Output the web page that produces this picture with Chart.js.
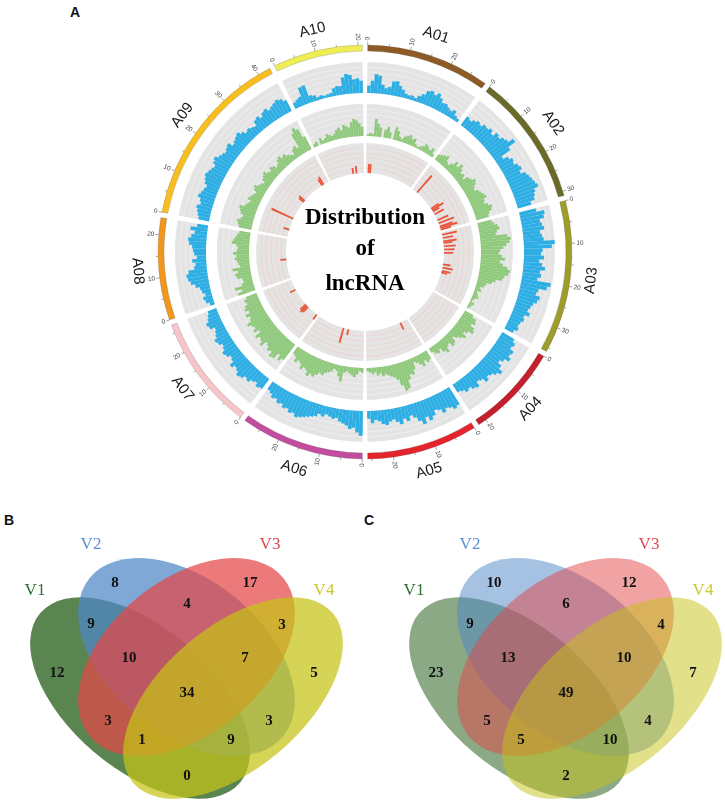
<!DOCTYPE html>
<html><head><meta charset="utf-8">
<script src="https://cdn.jsdelivr.net/npm/chart.js@4.4.1/dist/chart.umd.min.js"></script>
<style>
html,body{margin:0;padding:0;background:#fff;}
body{width:725px;height:801px;position:relative;overflow:hidden;}
#circos{position:absolute;left:113px;top:0px;}
#venn{position:absolute;left:0px;top:500px;}
.panel{position:absolute;font:bold 14px "Liberation Sans",Arial,sans-serif;color:#111;}
</style></head><body>
<div class="panel" style="left:70px;top:4px">A</div>
<div class="panel" style="left:4px;top:512px">B</div>
<div class="panel" style="left:364px;top:512px">C</div>
<canvas id="circos" width="504" height="504"></canvas>
<canvas id="venn" width="725" height="301"></canvas>
<script>
// ---------------- DATA ----------------
const chromosomes = ['A01','A02','A03','A04','A05','A06','A07','A08','A09','A10'];
const chromLengthMb = [29,31,36,22,26,29,27,24,43,21];

// lncRNA density per 1-Mb bin (relative, 0-100), outer (blue) track
const lncBlue = [
 [24,40,62,58,30,20,25,45,48,35,25,15,12,15,10,20,30,45,50,42,52,40,30,32,25,20,28,15,10],
 [35,30,38,45,40,50,48,55,45,60,55,65,70,88,60,25,40,50,45,55,60,50,65,70,75,80,85,70,65,60,45],
 [55,80,75,60,65,70,55,60,65,100,90,60,55,65,50,60,70,55,60,50,95,85,60,55,70,65,55,50,45,55,40,45,38,35,40,30],
 [45,55,50,65,60,70,55,45,60,75,65,55,50,60,45,40,55,50,40,45,35,30],
 [65,70,60,55,65,50,45,60,70,55,75,60,45,35,50,40,55,45,35,40,50,45,35,30,40,25],
 [80,70,55,60,50,45,40,30,35,30,25,35,30,40,45,50,55,60,65,55,60,50,55,45,50,40,45,35,30],
 [40,45,35,40,50,45,55,60,50,45,55,40,35,45,50,40,35,45,50,40,35,30,45,50,40,35,30],
 [15,25,30,20,28,32,45,58,65,68,60,40,35,45,30,38,42,45,55,59,50,40,55,35],
 [35,40,45,50,40,45,55,50,45,40,50,55,60,55,50,45,55,60,50,45,40,45,50,35,40,45,50,40,30,35,30,25,40,45,35,45,50,40,45,50,55,50,40],
 [20,25,30,58,60,22,18,10,12,8,10,12,25,30,28,55,65,60,45,48,40]
];
// middle (green) track
const lncGreen = [
 [5,10,8,55,40,30,0,25,35,20,0,40,30,15,10,20,25,30,20,25,10,5,10,15,25,20,15,25,10],
 [20,25,30,35,20,15,25,40,30,45,35,25,30,20,35,40,50,45,35,30,40,45,50,55,45,40,50,60,55,45,40],
 [45,50,60,65,55,50,85,95,90,80,70,60,55,65,75,60,70,85,95,90,80,75,55,45,30,25,15,20,10,15,20,10,5,15,10,5],
 [30,45,50,40,55,60,45,35,50,40,30,20,35,40,25,30,45,35,20,30,25,15],
 [30,35,25,40,30,20,15,35,50,45,60,85,90,70,50,40,35,30,25,30,20,25,15,20,15,10],
 [15,10,20,30,25,20,15,20,50,35,20,15,25,30,35,45,40,50,60,55,65,50,45,55,40,35,45,30,25],
 [60,70,55,75,80,65,70,60,55,75,65,60,70,50,65,55,60,70,55,50,60,45,55,50,40,45,35],
 [55,40,60,35,28,30,45,50,40,55,30,35,38,45,40,50,38,35,40,55,50,45,40,35],
 [40,45,50,40,35,45,50,55,40,35,30,40,35,30,25,35,40,30,25,20,30,35,40,30,25,35,30,20,25,35,40,30,35,25,20,15,30,35,25,70,85,75,45],
 [10,15,0,20,10,15,25,20,15,20,30,35,25,40,35,30,45,55,50,40,30]
];
// inner (red) track
const lncRed = [
 [0,30,30,0,0,0,0,0,0,0,0,0,0,0,0,0,0,0,0,0,0,0,0,0,0,0,0,0,0],
 [0,0,0,75,0,0,0,0,0,0,0,0,0,0,0,0,30,45,25,0,35,0,0,0,40,0,55,0,45,60,35],
 [0,50,0,35,0,45,30,0,40,0,35,0,30,0,0,0,0,0,0,25,0,35,0,30,20,0,0,0,0,0,0,0,0,0,0,0],
 [0,0,0,0,0,0,0,0,0,0,0,0,0,0,0,0,0,0,0,0,0,0],
 [0,0,0,0,25,0,0,0,0,0,0,0,0,0,0,0,0,0,0,0,0,0,0,0,0,0],
 [0,0,0,0,0,0,0,0,0,20,0,0,50,0,0,0,0,0,0,0,0,0,0,0,0,0,0,0,0],
 [20,0,0,0,0,0,0,25,30,25,0,0,0,0,0,0,0,0,0,0,20,0,0,0,0,0,0],
 [0,0,0,0,0,0,0,0,0,0,0,20,0,0,0,0,0,0,0,0,0,0,0,0],
 [0,0,0,0,20,0,0,0,0,0,0,80,0,0,0,0,0,0,0,0,0,0,0,20,25,0,0,0,0,0,0,0,0,0,0,0,0,0,25,30,0,0,0],
 [0,0,0,0,0,0,0,0,0,0,0,0,0,0,20,0,25,0,0,0,0]
];
const tickStepMb = 5, tickLabelStepMb = 10;

const vennSetNames = ['V1','V2','V3','V4'];
const vennRegions = ['V1','V2','V3','V4','V1∩V2','V1∩V3','V1∩V4','V2∩V3','V2∩V4','V3∩V4','V1∩V2∩V3','V1∩V2∩V4','V1∩V3∩V4','V2∩V3∩V4','V1∩V2∩V3∩V4'];
const vennCountsB = [12,8,17,5,9,3,0,4,3,3,10,9,1,7,34];
const vennCountsC = [23,10,12,7,9,5,2,6,4,4,13,10,5,10,49];

// ---------------- STYLE / LAYOUT ----------------
const chromColors = ['#8e5b25','#6b6a29','#9e9c2b','#c41f2c','#e5232b','#c24c9e','#f6c5c8','#f2971e','#f7be1f','#eeee52'];
const GAP_DEG = 1.5;
const R_MAX = 252;
const TRK = {
  red:   {inner:79,  outer:109, color:'#e8553a', line:'#f2cdc2'},
  green: {inner:116, outer:148, color:'#8fc97b', line:'#f1f1f1'},
  blue:  {inner:159, outer:190, color:'#2dafe6', line:'#f1f1f1'}
};
const BAND = {inner:201, outer:207};
const TRACK_BG = '#e4e4e4';
const CLEAR = 'rgba(0,0,0,0)';
const totalMb = chromLengthMb.reduce((a,b)=>a+b,0);
const degPerMb = (360 - GAP_DEG*chromosomes.length)/totalMb;

class CircosTrackController extends Chart.PolarAreaController {
  _computeAngle(index) {
    return this.getDataset().angles[index] * Math.PI / 180;
  }
  updateElement(element, index, properties, mode) {
    if (properties && properties.outerRadius !== undefined) {
      const scale = this._cachedMeta.rScale;
      const inner = scale.getDistanceFromCenterForValue(this.getDataset().base);
      properties.innerRadius = inner;
      if (properties.outerRadius < inner) properties.outerRadius = inner;
    }
    super.updateElement(element, index, properties, mode);
  }
}
CircosTrackController.id = 'circosTrack';
CircosTrackController.defaults = Object.assign({}, Chart.PolarAreaController.defaults);
CircosTrackController.overrides = Chart.PolarAreaController.overrides;
Chart.register(CircosTrackController);

function sectorLayout(inner, outer, colors) {
  const angles=[GAP_DEG/2], data=[inner], bg=[CLEAR];
  chromLengthMb.forEach((len,c)=>{
    angles.push(len*degPerMb); data.push(outer); bg.push(colors[c]);
    angles.push(c<chromLengthMb.length-1?GAP_DEG:GAP_DEG/2); data.push(inner); bg.push(CLEAR);
  });
  return {angles,data,bg};
}
function binLayout(track, values) {
  const angles=[GAP_DEG/2], data=[track.inner];
  values.forEach((bins,c)=>{
    bins.forEach(v=>{ angles.push(degPerMb); data.push(track.inner + v/100*(track.outer-track.inner)); });
    angles.push(c<values.length-1?GAP_DEG:GAP_DEG/2); data.push(track.inner);
  });
  return {angles,data};
}

const circosSets = [];
const band = sectorLayout(BAND.inner, BAND.outer, chromColors);
circosSets.push({data:band.data, angles:band.angles, base:BAND.inner, backgroundColor:band.bg,
  borderColor:band.bg.map(c=>c===CLEAR?CLEAR:'rgba(70,70,70,0.35)'), borderWidth:0.6, order:0});
[['blue',lncBlue],['green',lncGreen],['red',lncRed]].forEach(([k,vals])=>{
  const t = TRK[k];
  const bg = sectorLayout(t.inner, t.outer, chromColors.map(()=>TRACK_BG));
  circosSets.push({data:bg.data, angles:bg.angles, base:t.inner, backgroundColor:bg.bg, borderWidth:0, order:5});
  for (let i=1;i<=5;i++) {
    const r = t.inner + i*(t.outer-t.inner)/6;
    const ln = sectorLayout(r-0.35, r+0.35, chromColors.map(()=>t.line));
    circosSets.push({data:ln.data, angles:ln.angles, base:r-0.35, backgroundColor:ln.bg, borderWidth:0, order:4});
  }
  const bars = binLayout(t, vals);
  circosSets.push({data:bars.data, angles:bars.angles, base:t.inner, backgroundColor:t.color, borderWidth:0, order:1});
});

const circosDecor = {
  id:'circosDecor',
  afterDatasetsDraw(chart) {
    const ctx = chart.ctx, sc = chart.scales.r;
    const cx = sc.xCenter, cy = sc.yCenter;
    const meta = chart.getDatasetMeta(0);
    const rOut = sc.getDistanceFromCenterForValue(BAND.outer);
    ctx.save();
    chromosomes.forEach((name,c)=>{
      const el = meta.data[2*c+1];
      const a0 = el.startAngle, a1 = el.endAngle, len = chromLengthMb[c];
      for (let mb=0; mb<=len; mb+=tickStepMb) {
        const a = a0 + (a1-a0)*mb/len;
        const major = mb % tickLabelStepMb === 0;
        const r2 = rOut + (major?3.2:2.2);
        ctx.strokeStyle = '#666'; ctx.lineWidth = 0.6;
        ctx.beginPath();
        ctx.moveTo(cx+rOut*Math.cos(a), cy+rOut*Math.sin(a));
        ctx.lineTo(cx+r2*Math.cos(a), cy+r2*Math.sin(a));
        ctx.stroke();
        if (major) {
          const rt = rOut + 4.5;
          let deg = ((a + Math.PI/2)*180/Math.PI + 720) % 360;
          const flip = deg >= 180;
          ctx.save();
          ctx.translate(cx+rt*Math.cos(a), cy+rt*Math.sin(a));
          ctx.rotate(flip ? a+Math.PI : a);
          ctx.font = '6.5px "Liberation Sans", Arial, sans-serif';
          ctx.fillStyle = '#444';
          ctx.textAlign = flip ? 'right' : 'left';
          ctx.textBaseline = 'middle';
          ctx.fillText(String(mb), 0, 0);
          ctx.restore();
        }
      }
      // chromosome name
      const am = (a0+a1)/2;
      const deg = ((am + Math.PI/2)*180/Math.PI + 720) % 360;
      const flip = deg > 90 && deg < 270;
      const rn = rOut + 21;
      ctx.save();
      ctx.translate(cx+rn*Math.cos(am), cy+rn*Math.sin(am));
      ctx.rotate(flip ? am - Math.PI/2 : am + Math.PI/2);
      ctx.font = '15px "Liberation Sans", Arial, sans-serif';
      ctx.fillStyle = '#1a1a1a';
      ctx.textAlign = 'center'; ctx.textBaseline = 'middle';
      ctx.fillText(name, 0, 0);
      ctx.restore();
    });
    // center title
    ctx.fillStyle = '#000';
    ctx.font = 'bold 23px "Liberation Serif", "Times New Roman", serif';
    ctx.textAlign = 'center'; ctx.textBaseline = 'alphabetic';
    ctx.fillText('Distribution', cx, cy-28);
    ctx.fillText('of', cx, cy+3);
    ctx.fillText('lncRNA', cx, cy+38);
    ctx.restore();
  }
};

new Chart(document.getElementById('circos'), {
  type:'circosTrack',
  data:{labels:[], datasets:circosSets},
  options:{
    responsive:false, animation:false, events:[],
    layout:{padding:0},
    plugins:{legend:{display:false}, tooltip:{enabled:false}},
    scales:{r:{type:'radialLinear', display:false, min:0, max:R_MAX, startAngle:0,
      ticks:{display:false}, grid:{display:false}, angleLines:{display:false}, pointLabels:{display:false}}}
  },
  plugins:[circosDecor]
});

// ---------------- VENN ----------------
const vennEllipses = [
  {cx:140,   cy:698, a:131, b:71, rot:40.4},
  {cx:186.5, cy:657, a:125, b:77, rot:39.2},
  {cx:186.5, cy:657, a:125, b:77, rot:-39.2},
  {cx:233,   cy:698, a:131, b:71, rot:-40.4}
];
const vennFill = ['rgb(26,84,12)','rgb(78,134,200)','rgb(228,70,72)','rgb(198,196,22)'];
const vennSetColor = ['#2f6d2f','#5b90d0','#e04852','#c8c834'];
const vennSetPos = [[35,591],[91,545],[270,545],[324,591]];
const vennRegionPos = [[57,673],[115,583],[250,583],[314,673],[91,624],[108,721],[187,776],[187,604],[269,721],[282,625],[129,658],[231,740],[142,740],[245,658],[187,693]];
const vennPanels = [{dx:0, alpha:0.72, counts:vennCountsB},{dx:379, alpha:0.5, counts:vennCountsC}];

const vennDraw = {
  id:'vennDraw',
  beforeDatasetsDraw(chart) {
    const {ctx} = chart, x = chart.scales.x, y = chart.scales.y;
    const ux = Math.abs(x.getPixelForValue(1)-x.getPixelForValue(0));
    const uy = Math.abs(y.getPixelForValue(601)-y.getPixelForValue(600));
    vennPanels.forEach(p=>{
      ctx.save(); ctx.globalAlpha = p.alpha;
      vennEllipses.forEach((e,i)=>{
        ctx.beginPath();
        ctx.ellipse(x.getPixelForValue(e.cx+p.dx), y.getPixelForValue(e.cy), e.a*ux, e.b*uy, e.rot*Math.PI/180, 0, Math.PI*2);
        ctx.fillStyle = vennFill[i]; ctx.fill();
      });
      ctx.restore();
    });
  },
  afterDatasetsDraw(chart) {
    const {ctx} = chart, x = chart.scales.x, y = chart.scales.y;
    ctx.save();
    vennPanels.forEach((p,pi)=>{
      const meta = chart.getDatasetMeta(pi);
      ctx.font = 'bold 15px "Liberation Serif", "Times New Roman", serif';
      ctx.fillStyle = '#111'; ctx.textAlign = 'center'; ctx.textBaseline = 'middle';
      meta.data.forEach((pt,i)=>{ ctx.fillText(String(p.counts[i]), pt.x, pt.y); });
      ctx.font = '17px "Liberation Serif", "Times New Roman", serif';
      vennSetNames.forEach((n,i)=>{
        ctx.fillStyle = vennSetColor[i];
        ctx.fillText(n, x.getPixelForValue(vennSetPos[i][0]+p.dx), y.getPixelForValue(vennSetPos[i][1]));
      });
    });
    ctx.restore();
  }
};

new Chart(document.getElementById('venn'), {
  type:'scatter',
  data:{datasets: vennPanels.map(p=>({
    label: p.dx ? 'C' : 'B',
    data: vennRegionPos.map((q,i)=>({x:q[0]+p.dx, y:q[1], region:vennRegions[i], count:p.counts[i]})),
    pointRadius:0, pointHoverRadius:0
  }))},
  options:{
    responsive:false, animation:false, events:[],
    layout:{padding:0},
    plugins:{legend:{display:false}, tooltip:{enabled:false}},
    scales:{
      x:{type:'linear', display:false, min:0, max:725},
      y:{type:'linear', display:false, min:500, max:801, reverse:true}
    }
  },
  plugins:[vennDraw]
});
</script>
</body></html>
